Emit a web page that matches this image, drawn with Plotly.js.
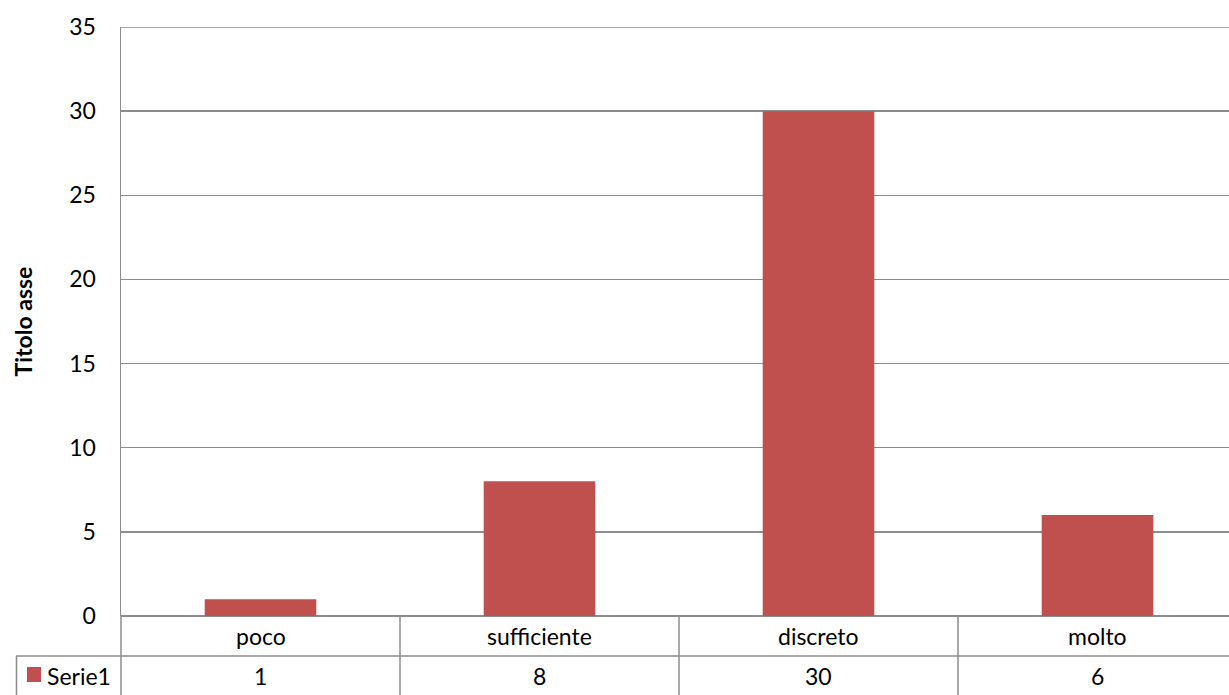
<!DOCTYPE html>
<html>
<head>
<meta charset="utf-8">
<script src="https://cdn.plot.ly/plotly-3.0.1.min.js"></script>
<style>
  html, body { margin: 0; padding: 0; background: #fff; }
  #chart { width: 1229px; height: 695px; }
</style>
</head>
<body>
<div id="chart"></div>
<script>
// Category labels and the single series shown in the bars and the data table
const categories = ['poco', 'sufficiente', 'discreto', 'molto'];
const seriesName = 'Serie1';
const seriesValues = [1, 8, 30, 6];
const yTicks = [0, 5, 10, 15, 20, 25, 30, 35];
const yTitle = 'Titolo asse';

const W = 1229, H = 695;
const M = { l: 121, r: 0, t: 27, b: 79 };
const plotW = W - M.l - M.r;
const plotH = H - M.t - M.b;
const catW = 279; // pixel width of one category slot
const gridColor = '#8c8c8c';
const barColor = '#c0504d';
const font = 'Lato, "Open Sans", sans-serif';
const fs = 23;

// pixel -> paper helpers for the data-table rows under the plot
const px = (x) => (x - M.l) / plotW;
const py = (y) => (H - M.b - y) / plotH;

const xMax = -0.5 + categories.length * plotW / (catW * categories.length);

const shapes = [];
const annotations = [];

// table row boundary between category row and value row
const rowSplit = py(656);
const tableBottom = py(H + 2);
const rowCatMid = py(636);
const rowValMid = py(676);

// top gridline at the range maximum
shapes.push({ type: 'line', xref: 'paper', yref: 'y', x0: 0, x1: 1, y0: yTicks[yTicks.length - 1], y1: yTicks[yTicks.length - 1],
  line: { color: gridColor, width: 1.5 } });
shapes.push({ type: 'line', xref: 'paper', yref: 'paper', x0: px(16), x1: 1, y0: rowSplit, y1: rowSplit,
  line: { color: gridColor, width: 1.5 } });
// left outer border of legend cell
shapes.push({ type: 'line', xref: 'paper', yref: 'paper', x0: px(16.5), x1: px(16.5), y0: rowSplit, y1: tableBottom,
  line: { color: gridColor, width: 1.5 } });
// plot left edge continued through the table
shapes.push({ type: 'line', xref: 'paper', yref: 'paper', x0: 0, x1: 0, y0: 0, y1: tableBottom,
  line: { color: gridColor, width: 1.5 } });
// category boundaries
for (let i = 0; i < categories.length - 1; i++) {
  shapes.push({ type: 'line', xref: 'x', yref: 'paper', x0: i + 0.5, x1: i + 0.5, y0: 0, y1: tableBottom,
    line: { color: gridColor, width: 1.5 } });
}
// legend key square
shapes.push({ type: 'rect', xref: 'paper', yref: 'paper', x0: px(27), x1: px(41), y0: py(682), y1: py(667),
  fillcolor: barColor, line: { width: 0 } });

categories.forEach((c, i) => {
  annotations.push({ xref: 'x', yref: 'paper', x: i, y: rowCatMid, text: c, showarrow: false,
    xanchor: 'center', yanchor: 'middle', font: { family: font, size: fs, color: '#000' } });
  annotations.push({ xref: 'x', yref: 'paper', x: i, y: rowValMid, text: String(seriesValues[i]), showarrow: false,
    xanchor: 'center', yanchor: 'middle', font: { family: font, size: fs, color: '#000' } });
});
annotations.push({ xref: 'paper', yref: 'paper', x: px(45), y: rowValMid, text: seriesName, showarrow: false,
  xanchor: 'left', yanchor: 'middle', font: { family: font, size: fs, color: '#000' } });

// vertical value-axis title
annotations.push({ xref: 'paper', yref: 'paper', x: px(22), y: 0.5, text: '<b>' + yTitle + '</b>', textangle: -90,
  showarrow: false, xanchor: 'center', yanchor: 'middle', font: { family: font, size: fs, color: '#000' } });

const trace = {
  type: 'bar',
  x: categories.map((_, i) => i),
  y: seriesValues,
  name: seriesName,
  width: 0.4,
  marker: { color: barColor, line: { width: 0 } },
  hoverinfo: 'none'
};

const layout = {
  width: W, height: H,
  margin: M,
  paper_bgcolor: '#fff', plot_bgcolor: '#fff',
  showlegend: false,
  font: { family: font, size: fs, color: '#000' },
  xaxis: {
    range: [-0.5, xMax],
    showticklabels: false, ticks: '',
    showgrid: false, zeroline: false,
    showline: false
  },
  yaxis: {
    range: [0, 35],
    tickvals: yTicks,
    ticktext: yTicks.map(String),
    ticks: '',
    ticklabelstandoff: 19,
    showgrid: true, gridcolor: gridColor, gridwidth: 1.5,
    zeroline: true, zerolinecolor: gridColor, zerolinewidth: 1.5,
    showline: true, linecolor: gridColor, linewidth: 1.5,
    tickfont: { family: font, size: fs, color: '#000' }
  },
  shapes: shapes,
  annotations: annotations
};

Plotly.newPlot('chart', [trace], layout, { staticPlot: true, displayModeBar: false });
</script>
</body>
</html>
